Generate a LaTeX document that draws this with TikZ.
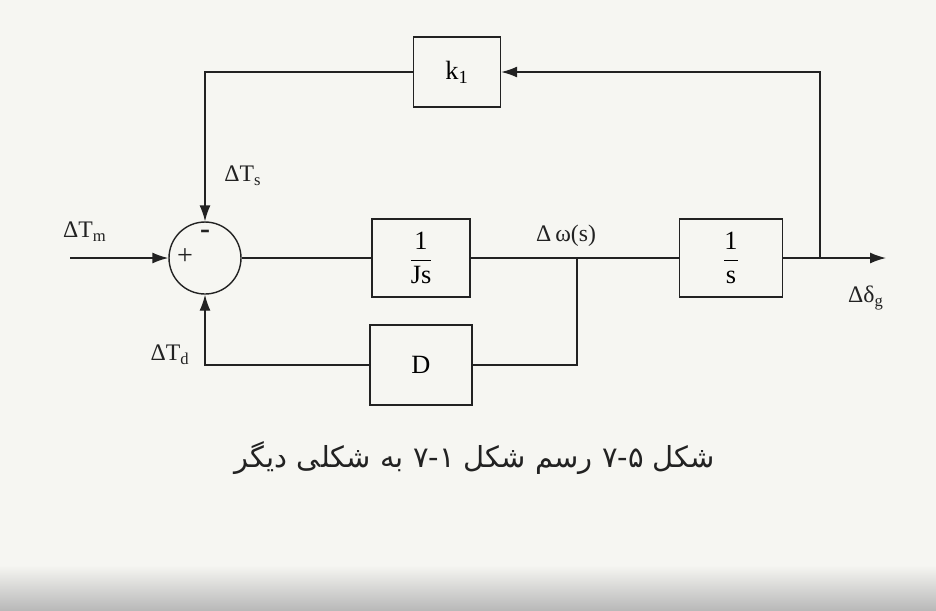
\documentclass[tikz,border=0pt]{standalone}
\usepackage{fontspec}
\usepackage{amsmath}
\setmainfont{Liberation Serif}
\newfontfamily\persianfont[Script=Arabic]{DejaVu Sans}
\TeXXeTstate=1
\usetikzlibrary{arrows.meta, positioning}

\definecolor{paper}{HTML}{F6F6F2}
\definecolor{ink}{HTML}{222222}

\tikzset{
    blk/.style={draw=ink, line width=0.8pt, minimum width=#1, minimum height=1.56cm,
                font=\fontsize{15}{17}\selectfont},
    sumnode/.style={draw=ink, circle, line width=0.8pt, minimum size=1.44cm, inner sep=0pt},
    lbl/.style={font=\fontsize{13.5}{15}\selectfont, text=ink},
}

\begin{document}
\begin{tikzpicture}[x=0.02cm, y=-0.02cm, line width=0.8pt, draw=ink,
    >={Latex[length=3.2mm,width=2.2mm]}]
    % Paper
    \fill[paper] (0,0) rectangle (936,610);
    \shade[top color=paper, bottom color=gray!55] (0,565) rectangle (936,610);
    \useasboundingbox (0,0) rectangle (936,610);
    % Summing junction and blocks
    \node[sumnode] (sum) at (205,258) {};
    \node[blk=1.96cm] (js) at (421,258) {$\dfrac{\text{1}}{\text{Js}}$};
    \node[blk=2.04cm, minimum height=1.6cm] (d) at (421,365) {D};
    \node[blk=2.06cm] (sb) at (731,258) {$\dfrac{\text{1}}{\text{s}}$};
    \node[blk=1.74cm, minimum height=1.4cm] (k1) at (457,72) {k\textsubscript{1}};
    % Signs in the junction
    \node[lbl, font=\fontsize{16}{18}\selectfont] (plus) at (185,257) {+};
    \node[lbl, font=\bfseries\fontsize{17}{18}\selectfont] (minus) at (205,234) {-};
    % Free ends and branch points
    \coordinate (in)  at (70,258);
    \coordinate (out) at (886,258);
    \coordinate (br)  at (577,258);
    \coordinate (tap) at (820,258);
    % Forward path
    \draw[->] (in) -- (sum.west);
    \draw (sum.east) -- (js.west);
    \draw (js.east) -- (sb.west);
    \draw[->] (sb.east) -- (out);
    % Feedback through k1
    \draw[->] (tap) |- (k1.east);
    \draw[->] (k1.west) -| (sum.north);
    % Damping loop
    \draw (br) |- (d.east);
    \draw[->] (d.west) -| (sum.south);
    % Signal labels
    \node[lbl] (tm) at (85,232) {ΔT\textsubscript{m}};
    \node[lbl] (ts) at (243,176) {ΔT\textsubscript{s}};
    \node[lbl] (td) at (170,355) {ΔT\textsubscript{d}};
    \node[lbl] (w)  at (566,236) {Δ\,ω(s)};
    \node[lbl] (dg) at (866,298) {Δδ\textsubscript{g}};
    % Caption
    \node[text=ink] (cap) at (475,458)
        {\persianfont\fontsize{16.5}{19}\selectfont\beginR شکل \beginL\hbox{۷}\hbox{-}\hbox{۵}\endL{} رسم شکل \beginL\hbox{۷}\hbox{-}\hbox{۱}\endL{} به شکلی دیگر\endR};
\end{tikzpicture}
\end{document}
